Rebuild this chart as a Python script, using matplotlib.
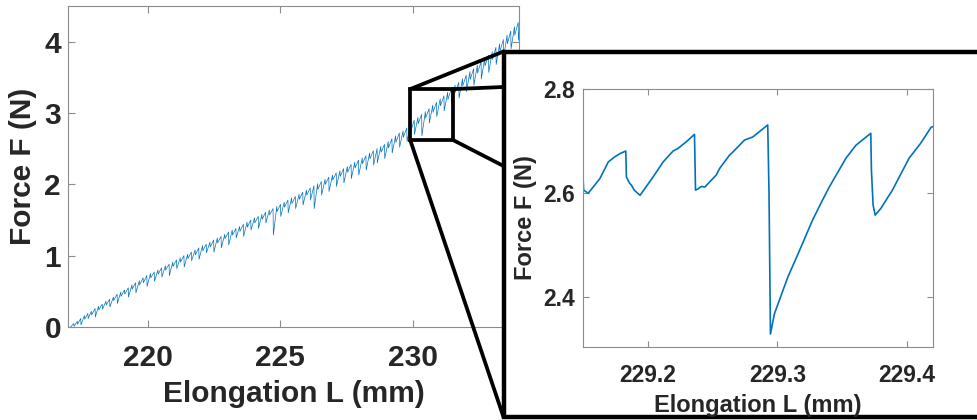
import matplotlib
matplotlib.use('Agg')
import matplotlib.pyplot as plt
from matplotlib.patches import Rectangle, ConnectionPatch

# curva completa: picos e vales
main_L = [217.10, 217.22, 217.23, 217.35, 217.36, 217.48, 217.49, 217.62, 217.63, 217.75,
          217.76, 217.88, 217.89, 218.02, 218.03, 218.15, 218.16, 218.29, 218.30, 218.43,
          218.44, 218.57, 218.58, 218.71, 218.72, 218.85, 218.86, 218.99, 219.00, 219.13,
          219.14, 219.27, 219.28, 219.41, 219.42, 219.55, 219.56, 219.69, 219.70, 219.83,
          219.84, 219.97, 219.98, 220.11, 220.12, 220.25, 220.26, 220.39, 220.40, 220.53,
          220.54, 220.67, 220.68, 220.81, 220.82, 220.95, 220.96, 221.09, 221.10, 221.23,
          221.24, 221.37, 221.38, 221.51, 221.52, 221.65, 221.66, 221.79, 221.80, 221.93,
          221.94, 222.07, 222.08, 222.21, 222.22, 222.35, 222.36, 222.49, 222.50, 222.63,
          222.64, 222.77, 222.78, 222.91, 222.92, 223.05, 223.06, 223.19, 223.20, 223.33,
          223.34, 223.47, 223.48, 223.61, 223.62, 223.75, 223.76, 223.89, 223.90, 224.03,
          224.04, 224.17, 224.18, 224.31, 224.32, 224.45, 224.46, 224.59, 224.60, 224.73,
          224.74, 224.87, 224.88, 225.01, 225.02, 225.15, 225.16, 225.29, 225.30, 225.43,
          225.44, 225.57, 225.58, 225.71, 225.72, 225.85, 225.86, 225.99, 226.00, 226.13,
          226.14, 226.27, 226.28, 226.41, 226.42, 226.55, 226.56, 226.69, 226.70, 226.83,
          226.84, 226.97, 226.98, 227.11, 227.12, 227.25, 227.26, 227.39, 227.40, 227.53,
          227.54, 227.67, 227.68, 227.81, 227.82, 227.95, 227.96, 228.09, 228.10, 228.23,
          228.24, 228.37, 228.38, 228.51, 228.52, 228.65, 228.66, 228.79, 228.80, 228.93,
          228.94, 229.07, 229.08, 229.21, 229.22, 229.35, 229.36, 229.49, 229.50, 229.63,
          229.64, 229.77, 229.78, 229.91, 229.92, 230.05, 230.06, 230.19, 230.20, 230.33,
          230.34, 230.47, 230.48, 230.61, 230.62, 230.75, 230.76, 230.89, 230.90, 231.03,
          231.04, 231.17, 231.18, 231.31, 231.32, 231.45, 231.46, 231.59, 231.60, 231.73,
          231.74, 231.87, 231.88, 232.01, 232.02, 232.15, 232.16, 232.29, 232.30, 232.43,
          232.44, 232.57, 232.58, 232.71, 232.72, 232.85, 232.86, 232.99, 233.00, 233.13,
          233.14, 233.27, 233.28, 233.41, 233.42, 233.55, 233.56, 233.69, 233.70, 233.83,
          233.84, 233.97, 233.98, 234.05]
main_F = [0.00, 0.05, 0.01, 0.08, 0.04, 0.12, 0.03, 0.16, 0.11, 0.19,
          0.12, 0.22, 0.17, 0.26, 0.14, 0.29, 0.24, 0.32, 0.25, 0.36,
          0.31, 0.39, 0.28, 0.42, 0.37, 0.46, 0.33, 0.49, 0.43, 0.52,
          0.46, 0.55, 0.42, 0.59, 0.53, 0.62, 0.48, 0.65, 0.59, 0.69,
          0.62, 0.72, 0.57, 0.75, 0.69, 0.77, 0.64, 0.80, 0.74, 0.83,
          0.70, 0.86, 0.80, 0.88, 0.72, 0.91, 0.85, 0.94, 0.82, 0.97,
          0.91, 1.00, 0.84, 1.02, 0.96, 1.05, 0.93, 1.08, 1.01, 1.11,
          0.95, 1.14, 1.07, 1.16, 1.04, 1.19, 1.12, 1.22, 1.05, 1.25,
          1.18, 1.27, 1.11, 1.30, 1.24, 1.33, 1.15, 1.36, 1.29, 1.38,
          1.25, 1.41, 1.34, 1.44, 1.27, 1.47, 1.40, 1.50, 1.36, 1.53,
          1.46, 1.55, 1.38, 1.58, 1.51, 1.61, 1.46, 1.64, 1.57, 1.66,
          1.29, 1.69, 1.62, 1.72, 1.55, 1.75, 1.68, 1.78, 1.60, 1.81,
          1.73, 1.83, 1.66, 1.86, 1.79, 1.89, 1.71, 1.92, 1.85, 1.95,
          1.78, 1.98, 1.66, 2.01, 1.93, 2.04, 1.85, 2.07, 2.00, 2.10,
          1.90, 2.13, 2.06, 2.16, 1.97, 2.19, 2.11, 2.22, 2.02, 2.25,
          2.17, 2.28, 2.08, 2.31, 2.23, 2.34, 2.13, 2.37, 2.29, 2.40,
          2.20, 2.44, 2.36, 2.47, 2.27, 2.50, 2.30, 2.53, 2.45, 2.56,
          2.36, 2.60, 2.51, 2.64, 2.44, 2.68, 2.59, 2.72, 2.52, 2.75,
          2.66, 2.79, 2.60, 2.83, 2.74, 2.90, 2.70, 2.94, 2.85, 2.98,
          2.68, 3.02, 2.93, 3.06, 2.86, 3.11, 3.01, 3.15, 2.95, 3.20,
          3.10, 3.24, 3.03, 3.29, 3.19, 3.34, 3.12, 3.39, 3.29, 3.43,
          3.21, 3.48, 3.38, 3.53, 3.30, 3.58, 3.47, 3.62, 3.39, 3.67,
          3.56, 3.72, 3.48, 3.77, 3.66, 3.81, 3.57, 3.86, 3.75, 3.92,
          3.68, 3.97, 3.86, 4.03, 3.78, 4.09, 3.97, 4.15, 3.90, 4.21,
          4.09, 4.27, 4.02, 4.30]

# detalhe ampliado (zoom)
zoom_L = [229.1500, 229.1505, 229.1540, 229.1630, 229.1695, 229.1746, 229.1785, 229.1830,
          229.1835, 229.1860, 229.1875, 229.1895, 229.1940, 229.2040, 229.2118, 229.2195,
          229.2233, 229.2298, 229.2360, 229.2368, 229.2385, 229.2413, 229.2440, 229.2490,
          229.2528, 229.2554, 229.2630, 229.2656, 229.2746, 229.2810, 229.2925, 229.2935,
          229.2946, 229.2977, 229.3080, 229.3170, 229.3270, 229.3348, 229.3400, 229.3528,
          229.3605, 229.3720, 229.3725, 229.3738, 229.3754, 229.3798, 229.3887, 229.4015,
          229.4105, 229.4184, 229.4200]
zoom_F = [2.631, 2.606, 2.600, 2.628, 2.660, 2.670, 2.676, 2.681,
          2.631, 2.619, 2.615, 2.606, 2.596, 2.631, 2.660, 2.681,
          2.686, 2.699, 2.713, 2.606, 2.608, 2.613, 2.612, 2.625,
          2.635, 2.6475, 2.673, 2.679, 2.702, 2.708, 2.731, 2.600,
          2.330, 2.369, 2.439, 2.490, 2.548, 2.587, 2.612, 2.667,
          2.692, 2.715, 2.644, 2.577, 2.558, 2.571, 2.606, 2.667,
          2.696, 2.726, 2.728]

main_xticks = [220, 225, 230]
main_yticks = [0, 1, 2, 3, 4]
zoom_xticks = [229.2, 229.3, 229.4]
zoom_yticks = [2.4, 2.6, 2.8]

# retangulo de zoom no grafico principal
rect_L = (229.9, 231.52)
rect_F = (2.62, 3.335)

plt.rcParams['font.family'] = ['Liberation Sans', 'DejaVu Sans']
plt.rcParams['font.weight'] = 'bold'
plt.rcParams['axes.labelweight'] = 'bold'

azul = '#0072BD'
texto = '#262626'
cinza = '#8c8c8c'

fig = plt.figure(figsize=(9.77, 4.2), dpi=100)

# grafico principal
ax = fig.add_axes([68/977, 1-327/420, (519-68)/977, (327-6)/420])
ax.plot(main_L, main_F, color=azul, lw=0.5)
ax.set_xlim(217, 234)
ax.set_ylim(0, 4.5)
ax.set_xticks(main_xticks)
ax.set_yticks(main_yticks)
ax.tick_params(direction='in', top=True, right=True, length=5, width=0.8,
               color=cinza, labelsize=21.5, labelcolor=texto)
ax.tick_params(axis='x', pad=12)
ax.tick_params(axis='y', pad=5)
for s in ax.spines.values():
    s.set_color(cinza)
    s.set_linewidth(0.8)
ax.set_xlabel('Elongation L (mm)', fontsize=21.5, color=texto, labelpad=6)
ax.set_ylabel('Force F (N)', fontsize=21.5, color=texto, labelpad=5)

ax.add_patch(Rectangle((rect_L[0], rect_F[0]), rect_L[1]-rect_L[0], rect_F[1]-rect_F[0],
                       fill=False, ec='black', lw=2.7, zorder=5))

# caixa do zoom
caixa = Rectangle((503.5/977, 1-417/420), 0.6, (417-51.5)/420, transform=fig.transFigure,
                  fc='white', ec='black', lw=3.2, zorder=1)
fig.add_artist(caixa)

# linhas ligando o retangulo a caixa
ligacoes = [((rect_L[0], rect_F[1]), (503.5/977, 1-51.5/420)),
            ((rect_L[1], rect_F[1]), (503.5/977, 1-87/420)),
            ((rect_L[1], rect_F[0]), (503.5/977, 1-166/420)),
            ((rect_L[0], rect_F[0]), (503.5/977, 1-417/420))]
for a, b in ligacoes:
    cp = ConnectionPatch(a, b, coordsA='data', coordsB='figure fraction', axesA=ax,
                         color='black', lw=2.7, zorder=1)
    fig.add_artist(cp)

# grafico do zoom
ax2 = fig.add_axes([583/977, 1-347/420, (933-583)/977, (347-89)/420], zorder=2)
ax2.plot(zoom_L, zoom_F, color=azul, lw=1.2)
ax2.set_xlim(229.15, 229.42)
ax2.set_ylim(2.305, 2.8)
ax2.set_xticks(zoom_xticks)
ax2.set_yticks(zoom_yticks)
ax2.set_xticklabels(['229.2', '229.3', '229.4'])
ax2.set_yticklabels(['2.4', '2.6', '2.8'])
ax2.tick_params(direction='in', top=True, right=True, length=4, width=0.8,
                color=cinza, labelsize=16.5, labelcolor=texto)
ax2.tick_params(axis='x', pad=12)
ax2.tick_params(axis='y', pad=5.5)
for s in ax2.spines.values():
    s.set_color(cinza)
    s.set_linewidth(0.8)
ax2.set_xlabel('Elongation L (mm)', fontsize=17, color=texto, labelpad=5)
ax2.set_ylabel('Force F (N)', fontsize=17, color=texto, labelpad=5)

fig.savefig('out.png', dpi=100)
